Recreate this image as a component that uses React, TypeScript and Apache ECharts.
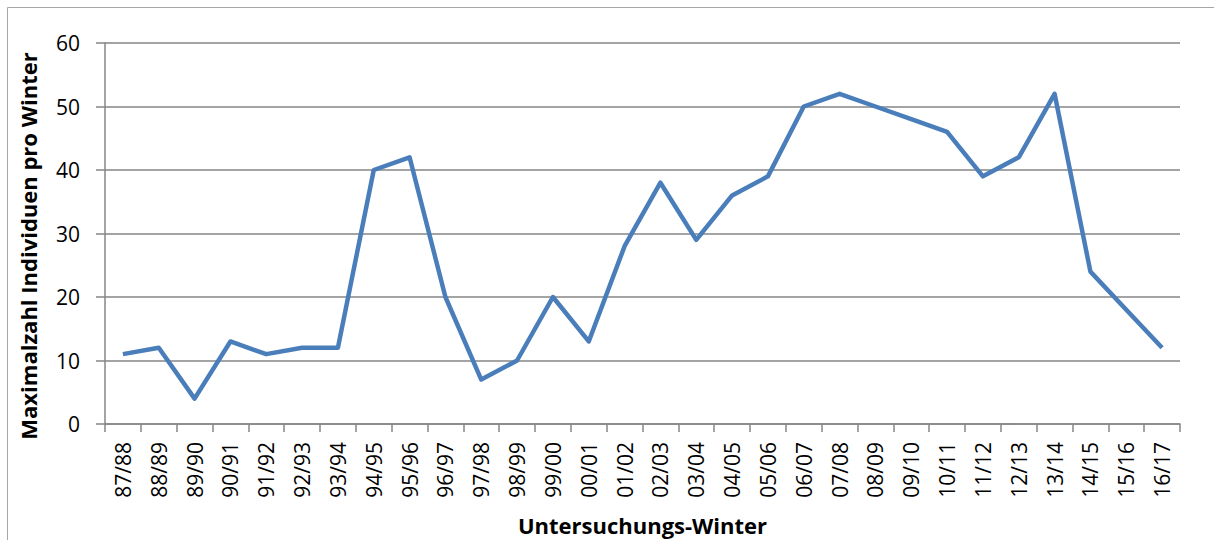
import React, { useEffect, useRef } from "react";
import * as echarts from "echarts";

const categories = [
  "87/88", "88/89", "89/90", "90/91", "91/92", "92/93", "93/94", "94/95", "95/96", "96/97",
  "97/98", "98/99", "99/00", "00/01", "01/02", "02/03", "03/04", "04/05", "05/06", "06/07",
  "07/08", "08/09", "09/10", "10/11", "11/12", "12/13", "13/14", "14/15", "15/16", "16/17",
];
const values = [
  11, 12, 4, 13, 11, 12, 12, 40, 42, 20,
  7, 10, 20, 13, 28, 38, 29, 36, 39, 50,
  52, 50, 48, 46, 39, 42, 52, 24, 18, 12,
];
const yTicks = { min: 0, max: 60, interval: 10 };
const xTitle = "Untersuchungs-Winter";
const yTitle = "Maximalzahl Individuen pro Winter";

const FONT = "'Open Sans', 'Noto Sans', sans-serif";

export default function App() {
  const ref = useRef<HTMLDivElement>(null);
  useEffect(() => {
    document.body.style.margin = "0";
    document.documentElement.style.overflow = "hidden";
    const chart = echarts.init(ref.current!, null, { renderer: "svg" });
    chart.setOption({
      animation: false,
      backgroundColor: "#ffffff",
      graphic: [
        {
          type: "rect",
          shape: { x: 7.5, y: 7.5, width: 1300, height: 700 },
          style: { fill: "none", stroke: "#a6a6a6", lineWidth: 1 },
          silent: true,
        },
        {
          type: "text",
          x: 28,
          y: 246,
          rotation: Math.PI / 2,
          style: {
            text: yTitle,
            fontFamily: FONT,
            fontWeight: "bold",
            fontSize: 22,
            fill: "#000",
            align: "center",
            verticalAlign: "middle",
          },
          silent: true,
        },
      ],
      grid: { left: 105, right: 34, top: 43, bottom: 116, containLabel: false, outerBoundsMode: "none" },
      xAxis: {
        type: "category",
        data: categories,
        boundaryGap: true,
        name: xTitle,
        nameLocation: "middle",
        nameGap: 90,
        nameTextStyle: { fontFamily: FONT, fontWeight: "bold", fontSize: 22, color: "#000" },
        axisLine: { show: true, lineStyle: { color: "#868686", width: 1.5 } },
        axisTick: { show: true, length: 8, interval: 0, alignWithLabel: false, lineStyle: { color: "#868686", width: 1.5 } },
        axisLabel: { rotate: 90, interval: 0, margin: 18, fontFamily: FONT, fontSize: 21, color: "#000" },
        splitLine: { show: false },
      },
      yAxis: {
        type: "value",
        min: yTicks.min,
        max: yTicks.max,
        interval: yTicks.interval,
        axisLine: { show: true, lineStyle: { color: "#868686", width: 1.5 } },
        axisTick: { show: true, length: 9, lineStyle: { color: "#868686", width: 1.5 } },
        axisLabel: { margin: 25, fontFamily: FONT, fontSize: 21, color: "#000" },
        splitLine: { show: true, lineStyle: { color: "#868686", width: 1.5 } },
      },
      series: [
        {
          type: "line",
          data: values,
          symbol: "none",
          lineStyle: { color: "#4a7ebb", width: 4.5, join: "round" },
          itemStyle: { color: "#4a7ebb" },
        },
      ],
    });
    return () => chart.dispose();
  }, []);
  return <div ref={ref} style={{ position: "fixed", left: 0, top: 0, width: 1214, height: 540 }} />;
}
